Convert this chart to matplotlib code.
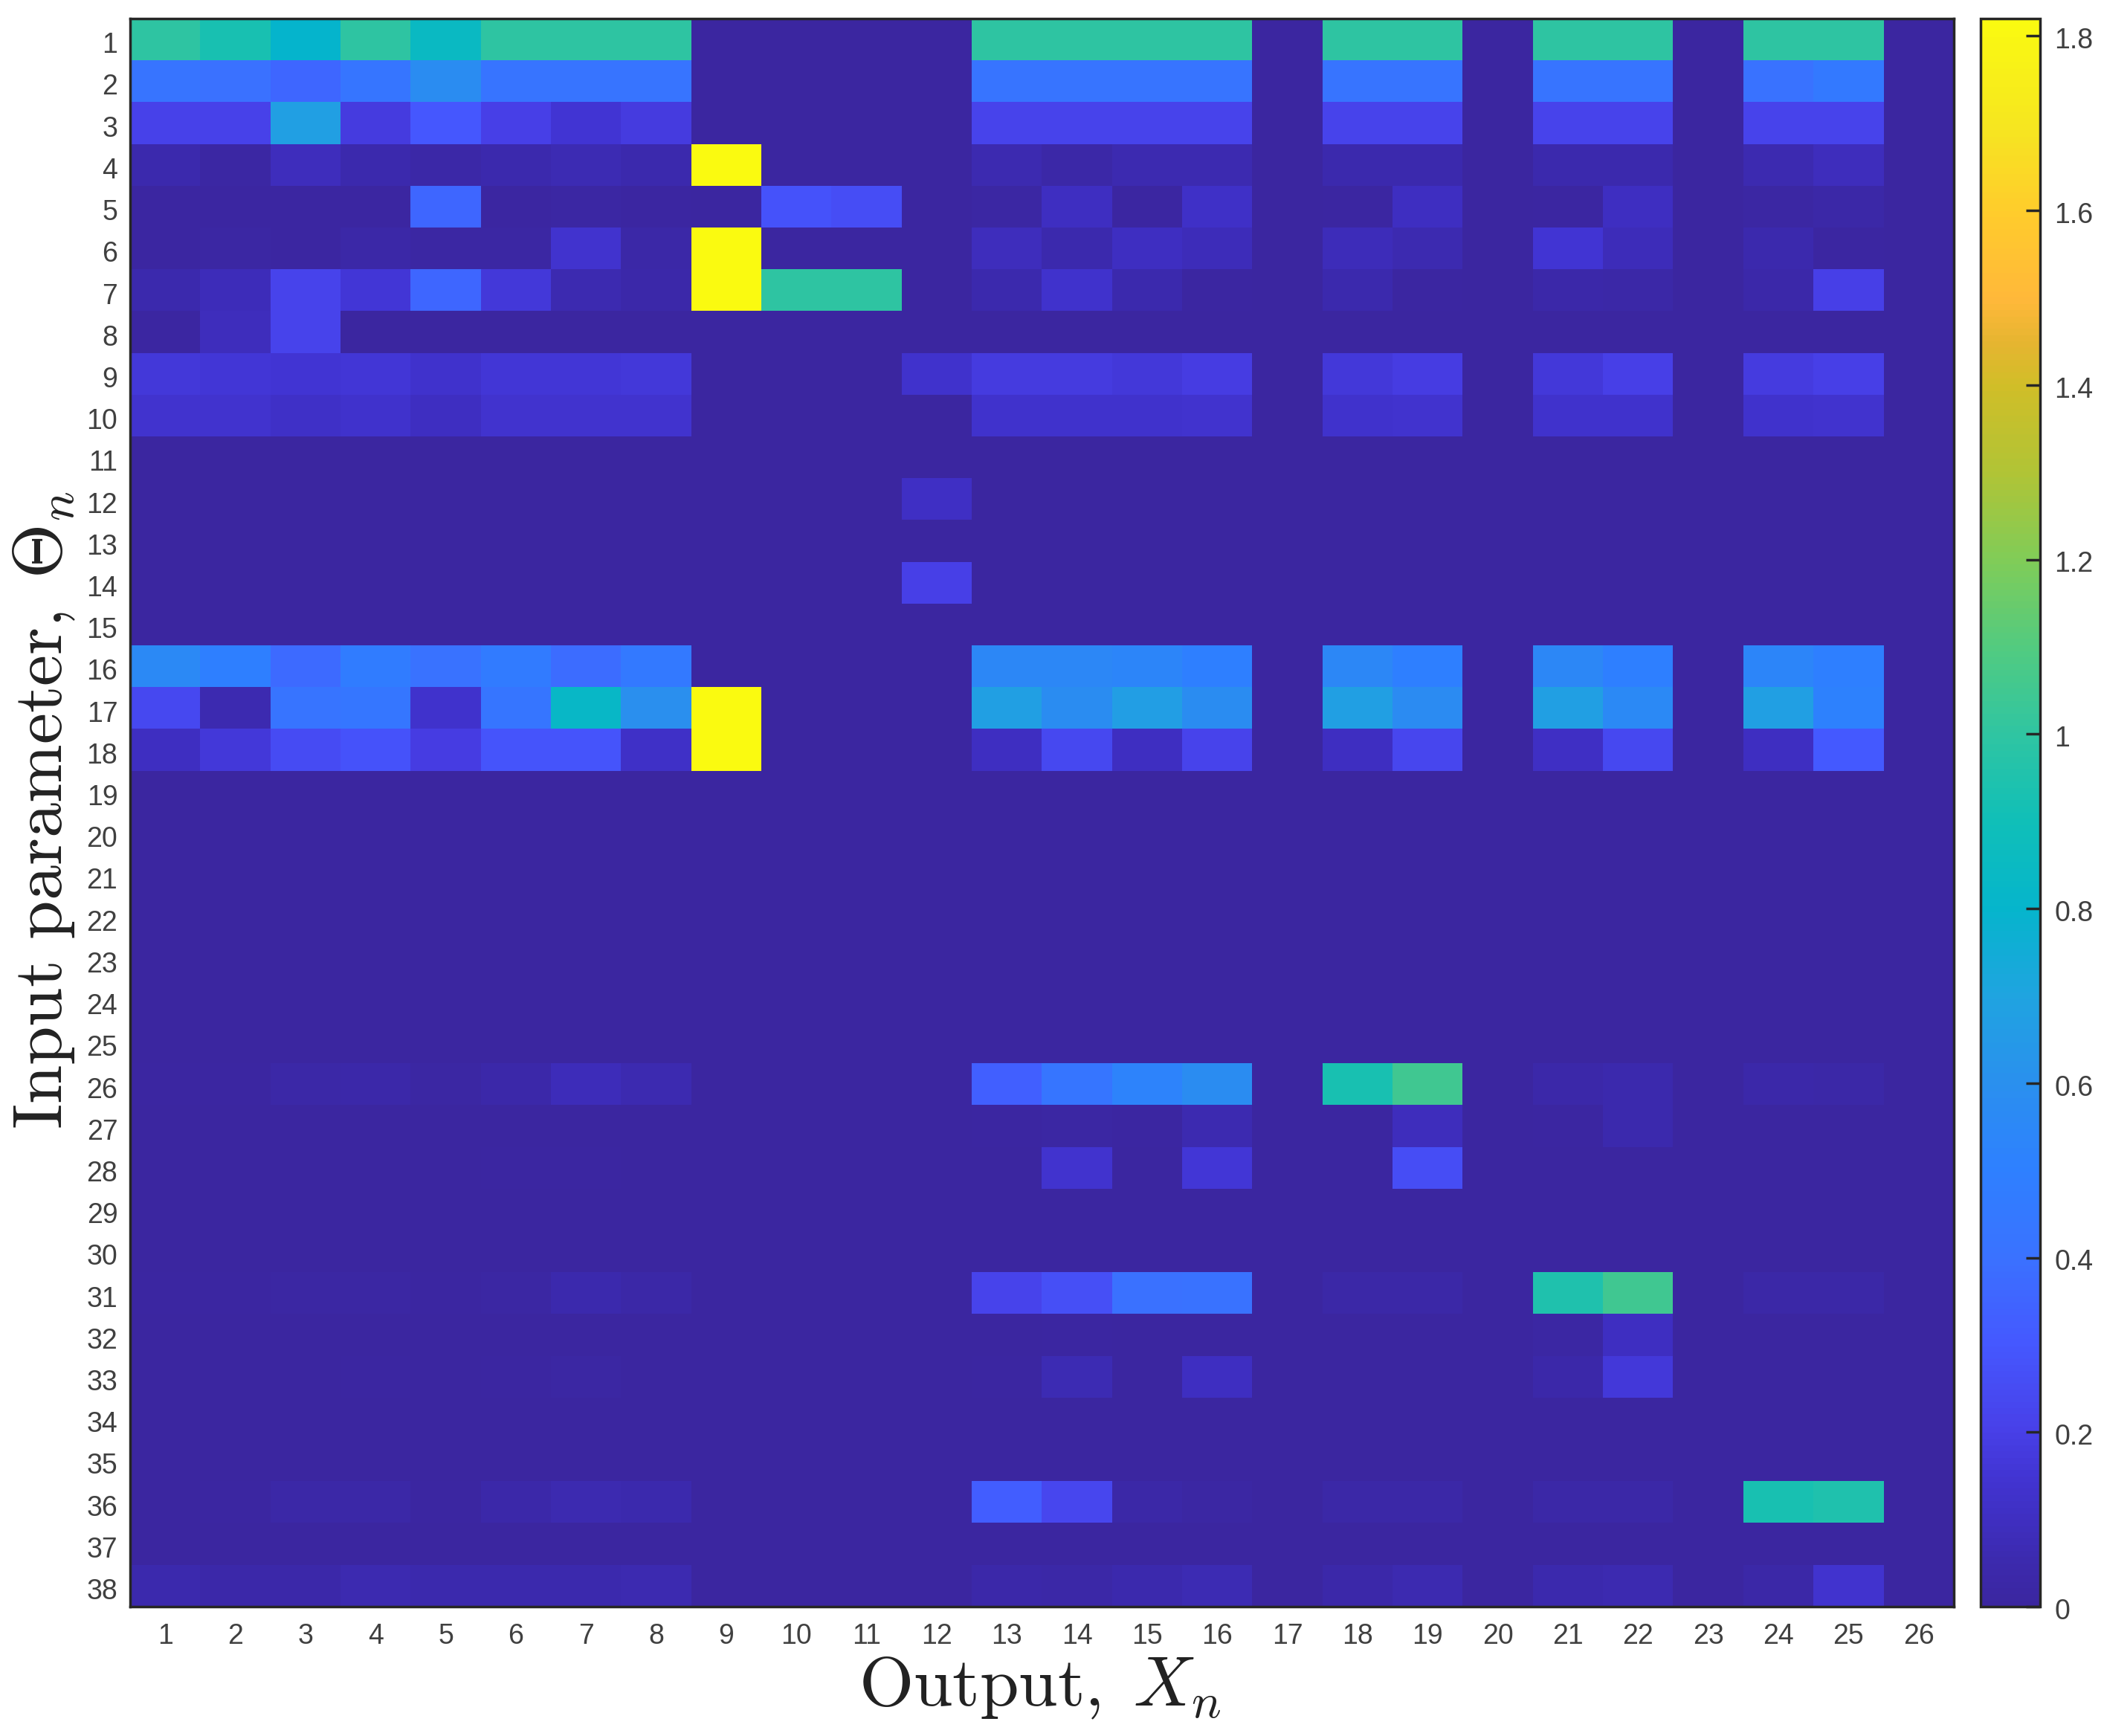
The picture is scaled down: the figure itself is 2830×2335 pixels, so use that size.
import numpy as np
import matplotlib
matplotlib.use("Agg")
import matplotlib.pyplot as plt
from matplotlib.colors import LinearSegmentedColormap
from matplotlib.transforms import ScaledTranslation

plt.rcParams['font.family'] = ['Liberation Sans', 'DejaVu Sans']
plt.rcParams['mathtext.fontset'] = 'cm'

W, H = 2830, 2335

# colours picked off the colour bar, value -> colour
bar_vals = [0, 0.05, 0.1, 0.15, 0.2, 0.3, 0.4, 0.5, 0.6, 0.7, 0.8, 0.9, 1.0, 1.1, 1.2, 1.3, 1.4, 1.45, 1.5, 1.6, 1.7, 1.82]
bar_cols = ['#3B26A0', '#3C2AAE', '#3F2FC2', '#4235D4', '#4840E8', '#4558FF', '#3A72FF', '#2E80FF', '#2A90EE',
            '#1FA4E0', '#05B5CC', '#10BFB8', '#2FC5A2', '#52CB80', '#80CC58', '#B0C436', '#D0BE28', '#E5B530',
            '#FFB83A', '#FFCC2C', '#F6E620', '#FAFA10']

x_labels = [str(i) for i in range(1, 27)]
y_labels = [str(i) for i in range(1, 39)]

def row(**cells):
    r = [0.0] * 26
    for k, v in cells.items():
        r[int(k[1:]) - 1] = v
    return r

r1 = [1.0, 0.93, 0.80, 1.0, 0.85, 1.0, 1.0, 1.0, 0, 0, 0, 0, 1.0, 1.0, 1.0, 1.0, 0, 1.0, 1.0, 0, 1.0, 1.0, 0, 1.0, 1.0, 0]
r2 = [0.42, 0.40, 0.36, 0.43, 0.58, 0.42, 0.42, 0.42, 0, 0, 0, 0, 0.42, 0.42, 0.42, 0.42, 0, 0.42, 0.42, 0, 0.42, 0.42, 0, 0.41, 0.46, 0]
r3 = [0.21, 0.21, 0.68, 0.18, 0.30, 0.20, 0.15, 0.18, 0, 0, 0, 0, 0.22, 0.22, 0.22, 0.22, 0, 0.22, 0.22, 0, 0.22, 0.22, 0, 0.22, 0.22, 0]
r4 = [0.05, 0.02, 0.09, 0.05, 0.03, 0.05, 0.07, 0.05, 1.82, 0, 0, 0, 0.06, 0.03, 0.06, 0.06, 0, 0.05, 0.05, 0, 0.05, 0.05, 0, 0.06, 0.09, 0]
r5 = [0.01, 0.01, 0.01, 0.01, 0.36, 0.01, 0.02, 0.01, 0, 0.28, 0.26, 0, 0.02, 0.10, 0.01, 0.12, 0, 0.01, 0.10, 0, 0.01, 0.10, 0, 0.02, 0.03, 0]
r6 = [0.01, 0.02, 0.01, 0.03, 0.02, 0.02, 0.14, 0.03, 1.82, 0, 0, 0, 0.09, 0.05, 0.10, 0.08, 0, 0.08, 0.06, 0, 0.15, 0.08, 0, 0.05, 0.01, 0]
r7 = [0.05, 0.08, 0.22, 0.16, 0.36, 0.17, 0.06, 0.04, 1.82, 1.0, 1.0, 0, 0.05, 0.13, 0.05, 0.01, 0, 0.05, 0.01, 0, 0.04, 0.03, 0, 0.04, 0.20, 0]
r8 = [0.01, 0.09, 0.22, 0, 0, 0, 0, 0, 0, 0, 0, 0, 0, 0, 0, 0, 0, 0, 0, 0, 0, 0, 0, 0, 0, 0]
r9 = [0.17, 0.16, 0.15, 0.16, 0.13, 0.16, 0.16, 0.17, 0, 0, 0, 0.13, 0.18, 0.18, 0.17, 0.19, 0, 0.17, 0.19, 0, 0.17, 0.20, 0, 0.18, 0.20, 0]
r10 = [0.14, 0.14, 0.12, 0.13, 0.10, 0.14, 0.14, 0.14, 0, 0, 0, 0, 0.13, 0.13, 0.13, 0.14, 0, 0.13, 0.14, 0, 0.13, 0.13, 0, 0.13, 0.14, 0]
r12 = row(c12=0.11)
r14 = row(c12=0.20)
r16 = [0.56, 0.50, 0.37, 0.48, 0.41, 0.47, 0.38, 0.46, 0, 0, 0, 0, 0.55, 0.55, 0.54, 0.50, 0, 0.55, 0.50, 0, 0.55, 0.50, 0, 0.54, 0.50, 0]
r17 = [0.24, 0.06, 0.42, 0.44, 0.13, 0.43, 0.83, 0.60, 1.82, 0, 0, 0, 0.68, 0.58, 0.67, 0.58, 0, 0.68, 0.57, 0, 0.68, 0.56, 0, 0.68, 0.51, 0]
r18 = [0.10, 0.17, 0.25, 0.28, 0.19, 0.29, 0.29, 0.12, 1.82, 0, 0, 0, 0.10, 0.24, 0.10, 0.22, 0, 0.10, 0.23, 0, 0.11, 0.24, 0, 0.10, 0.31, 0]
r26 = [0.01, 0.01, 0.03, 0.04, 0.02, 0.04, 0.08, 0.06, 0, 0, 0, 0, 0.33, 0.43, 0.52, 0.58, 0, 0.93, 1.05, 0, 0.04, 0.05, 0, 0.04, 0.03, 0]
r27 = row(c13=0.01, c14=0.02, c15=0.01, c16=0.06, c19=0.09, c21=0.01, c22=0.05)
r28 = row(c6=0.01, c7=0.01, c14=0.14, c16=0.16, c19=0.26)
r31 = [0.01, 0.01, 0.02, 0.02, 0.01, 0.02, 0.05, 0.03, 0, 0, 0, 0, 0.22, 0.27, 0.40, 0.41, 0, 0.03, 0.03, 0, 0.95, 1.05, 0, 0.03, 0.03, 0]
r32 = row(c14=0.01, c21=0.02, c22=0.10)
r33 = row(c4=0.01, c6=0.01, c7=0.02, c13=0.01, c14=0.07, c16=0.10, c21=0.04, c22=0.17)
r36 = [0, 0.01, 0.03, 0.03, 0.01, 0.04, 0.06, 0.05, 0, 0, 0, 0, 0.32, 0.23, 0.03, 0.02, 0, 0.03, 0.03, 0, 0.03, 0.03, 0, 0.93, 0.95, 0]
r38 = [0.05, 0.04, 0.04, 0.06, 0.05, 0.05, 0.05, 0.06, 0, 0, 0, 0, 0.04, 0.03, 0.05, 0.07, 0, 0.04, 0.06, 0, 0.05, 0.06, 0, 0.03, 0.14, 0]

zero = [0.0] * 26
sens = np.array([r1, r2, r3, r4, r5, r6, r7, r8, r9, r10, zero, r12, zero, r14, zero, r16, r17, r18,
                 zero, zero, zero, zero, zero, zero, zero, r26, r27, r28, zero, zero, r31, r32, r33,
                 zero, zero, r36, zero, r38])

vmax = 1.82
cmap = LinearSegmentedColormap.from_list('parula_ish', [(v / vmax, c) for v, c in zip(bar_vals, bar_cols)], N=256)

fig = plt.figure(figsize=(W / 100, H / 100), dpi=100)

ax = fig.add_axes([175 / W, 1 - 2161 / H, (2628 - 175) / W, (2161 - 25) / H])
im = ax.imshow(sens, cmap=cmap, vmin=0, vmax=vmax, aspect='auto', interpolation='nearest')
ax.set_xticks(np.arange(26), x_labels)
ax.set_yticks(np.arange(38), y_labels)
ax.tick_params(length=0, labelsize=27, labelcolor='#404040', pad=10)
ax.tick_params(axis='x', pad=16)
# labels sit a bit below the cell centre in the reference
down = ScaledTranslation(-2 / 72, -3 / 72, fig.dpi_scale_trans)
for t in ax.get_yticklabels():
    t.set_transform(t.get_transform() + down)
for s in ax.spines.values():
    s.set_linewidth(2.5)
    s.set_color('#262626')

cax = fig.add_axes([2664 / W, 1 - 2161 / H, (2744 - 2664) / W, (2161 - 25) / H])
cb = fig.colorbar(im, cax=cax)
cb.set_ticks(np.arange(0, 1.9, 0.2), labels=['0', '0.2', '0.4', '0.6', '0.8', '1', '1.2', '1.4', '1.6', '1.8'])
cax.tick_params(direction='in', length=14, width=2.5, color='#262626', labelsize=27, labelcolor='#404040', pad=14)
for t in cax.get_yticklabels():
    t.set_transform(t.get_transform() + ScaledTranslation(0, -2 / 72, fig.dpi_scale_trans))
cb.outline.set_linewidth(2.5)
cb.outline.set_edgecolor('#262626')

fig.text(1399 / W, 1 - 2270 / H, r'$\mathrm{Output,}\;X_n$', fontsize=68, color='#222222', ha='center', va='center')
fig.text(59 / W, 1 - 1090 / H, r'$\mathrm{Input\ parameter,}\;\Theta_n$', fontsize=68, color='#222222',
         rotation=90, ha='center', va='center')

fig.savefig('out.png', dpi=100)
